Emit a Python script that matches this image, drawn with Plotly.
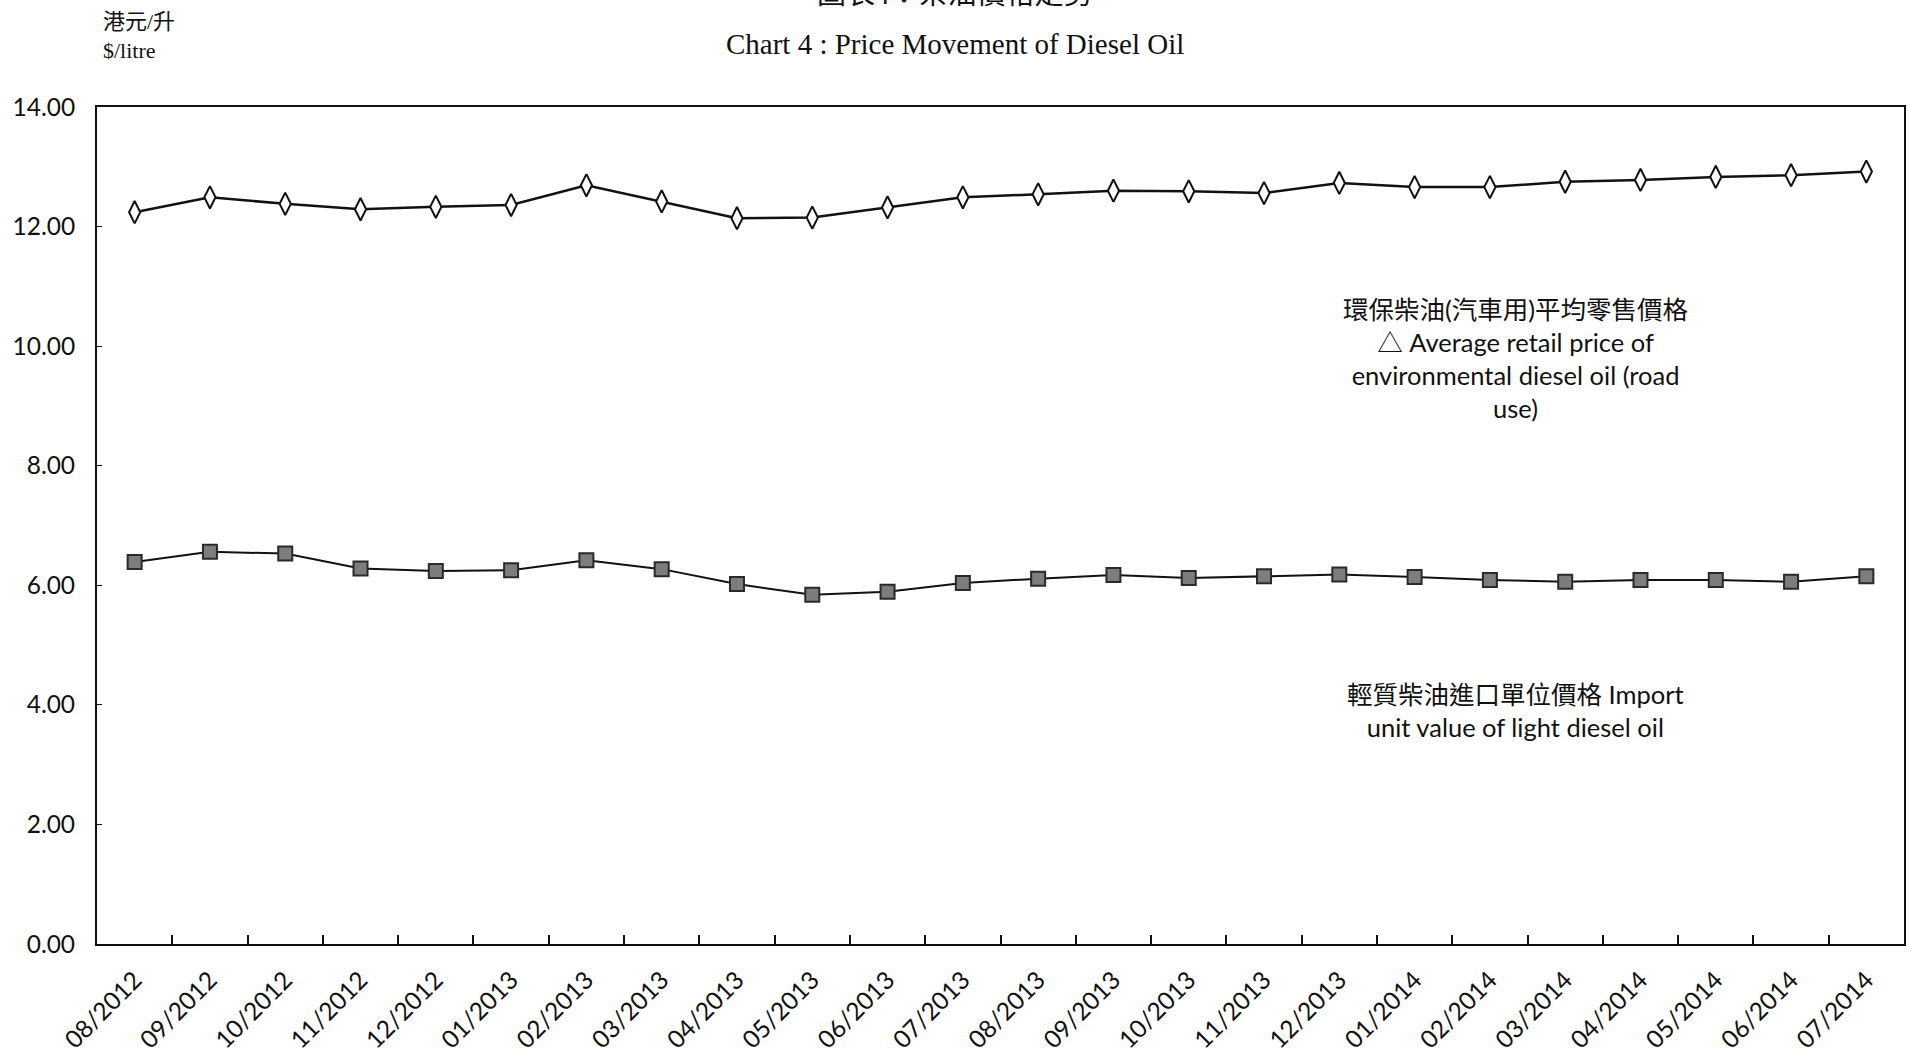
import plotly.graph_objects as go

months = ["08/2012", "09/2012", "10/2012", "11/2012", "12/2012", "01/2013",
          "02/2013", "03/2013", "04/2013", "05/2013", "06/2013", "07/2013",
          "08/2013", "09/2013", "10/2013", "11/2013", "12/2013", "01/2014",
          "02/2014", "03/2014", "04/2014", "05/2014", "06/2014", "07/2014"]

retail_price = [12.24, 12.49, 12.38, 12.29, 12.33, 12.36, 12.69, 12.42,
                12.14, 12.15, 12.32, 12.49, 12.54, 12.60, 12.59, 12.56,
                12.73, 12.66, 12.66, 12.75, 12.78, 12.83, 12.86, 12.92]

import_value = [6.39, 6.56, 6.53, 6.28, 6.24, 6.25, 6.42, 6.27, 6.02, 5.84,
                5.89, 6.04, 6.11, 6.17, 6.12, 6.15, 6.18, 6.14, 6.09, 6.06,
                6.09, 6.09, 6.06, 6.15]

y_ticks = [0, 2, 4, 6, 8, 10, 12, 14]

LATIN = "Lato, 'Noto Sans CJK TC', sans-serif"
SERIF = "'Liberation Serif', 'Noto Sans CJK TC', serif"

fig = go.Figure()
fig.add_trace(go.Scatter(
    x=months, y=retail_price, mode="lines+markers",
    line=dict(color="#111111", width=2.5),
    marker=dict(symbol="diamond-tall", size=16, color="white",
                line=dict(color="#111111", width=2)),
    showlegend=False, hoverinfo="x+y"))
fig.add_trace(go.Scatter(
    x=months, y=import_value, mode="lines+markers",
    line=dict(color="#111111", width=2),
    marker=dict(symbol="square", size=14, color="#7d7d7d",
                line=dict(color="#2a2a2a", width=2)),
    showlegend=False, hoverinfo="x+y"))

fig.update_layout(
    width=1910, height=1057,
    margin=dict(l=97, r=4, t=107, b=107),
    paper_bgcolor="white", plot_bgcolor="white",
    font=dict(family=LATIN, color="#111111", size=23),
    xaxis=dict(type="category", range=[-0.5, 23.5], showgrid=False,
               showline=True, linecolor="#111111", linewidth=2, mirror=True,
               ticks="inside", ticklen=9, tickwidth=1.5, tickcolor="#111111",
               tickson="boundaries", tickangle=-45,
               tickfont=dict(family=LATIN, size=24.5), ticklabelstandoff=10),
    yaxis=dict(range=[0, 14], tickvals=y_ticks, tickformat=".2f",
               showgrid=False, zeroline=False,
               showline=True, linecolor="#111111", linewidth=2, mirror=True,
               ticks="inside", ticklen=5, tickcolor="#111111",
               tickfont=dict(family=LATIN, size=24.5), ticklabelstandoff=15),
)

fig.add_annotation(text="圖表4：柴油價格走勢", xref="paper", yref="paper",
                   x=0.475, y=1.135, xanchor="center", yanchor="middle",
                   showarrow=False,
                   font=dict(family=SERIF, size=29, color="#111111"))
fig.add_annotation(text="Chart 4 : Price Movement of Diesel Oil",
                   xref="paper", yref="paper",
                   x=0.475, y=1.0755, xanchor="center", yanchor="middle",
                   showarrow=False,
                   font=dict(family=SERIF, size=29, color="#111111"))

fig.add_annotation(text="港元/升<br>$/litre", xref="paper", yref="paper",
                   x=0.002, y=1.085, xanchor="left", yanchor="middle", align="left",
                   showarrow=False,
                   font=dict(family=SERIF, size=22, color="#111111"))

fig.add_annotation(
    text="環保柴油(汽車用)平均零售價格<br>△ Average retail price of<br>environmental diesel oil (road<br>use)",
    xref="paper", yref="y", x=0.785, y=9.80, xanchor="center", yanchor="middle",
    align="center", showarrow=False,
    font=dict(family=LATIN, size=25.5, color="#111111"))

fig.add_annotation(
    text="輕質柴油進口單位價格 Import<br>unit value of light diesel oil",
    xref="paper", yref="y", x=0.785, y=3.90, xanchor="center", yanchor="middle",
    align="center", showarrow=False,
    font=dict(family=LATIN, size=25.5, color="#111111"))

fig.write_html("out.html",
               config={"displayModeBar": False},
               post_script="document.body.style.margin='0px';"
                           "document.body.style.overflow='hidden';")
